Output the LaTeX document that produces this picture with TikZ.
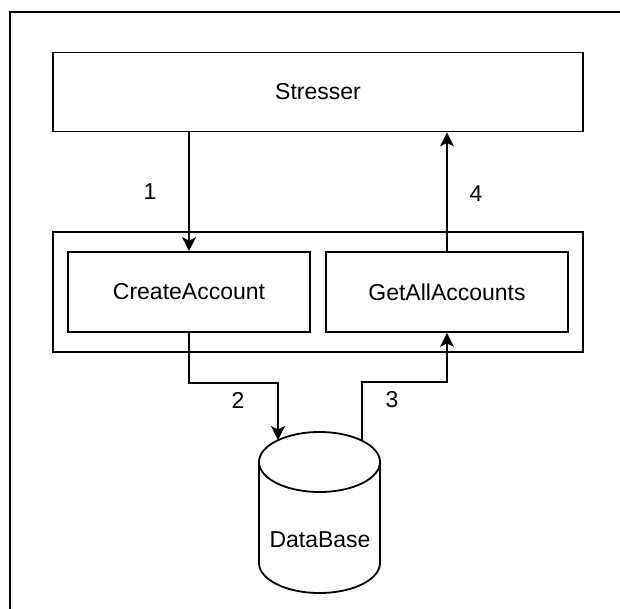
\documentclass[tikz,border=0pt]{standalone}
\usepackage{fontspec}
\setmainfont{Liberation Sans}
\usetikzlibrary{arrows.meta}

\tikzset{
  box/.style={draw, line width=1.8pt, inner sep=0pt, font=\fontsize{23}{27}\selectfont},
  lbl/.style={font=\fontsize{23}{27}\selectfont},
  flow/.style={line width=1.8pt, -{Stealth[length=14pt, width=14pt, inset=3.5pt]}}
}

\begin{document}
\begin{tikzpicture}[x=1pt, y=-1pt]
    \useasboundingbox (0,0) rectangle (620,608);
    % Frame around the whole drawing
    \draw[line width=1.8pt] (10,12) rectangle (630,620);

    % The stresser
    \node[box, minimum width=530pt, minimum height=79pt] (stresser) at (318,92) {Stresser};

    % Service with its two calls
    \node[box, minimum width=530pt, minimum height=120pt] (service) at (318,292) {};
    \node[box, minimum width=242pt, minimum height=80pt] (create) at (189,292) {CreateAccount};
    \node[box, minimum width=242pt, minimum height=80pt] (getall) at (447,292) {GetAllAccounts};

    % The database
    \draw[line width=1.8pt] (319.5,462) ellipse[x radius=60.5, y radius=30];
    \draw[line width=1.8pt] (259,462) -- (259,563) arc[start angle=180, end angle=0, x radius=60.5, y radius=30] -- (380,462);
    \node[lbl] (db) at (320,540) {DataBase};
    \coordinate (dbin) at (278,440);
    \coordinate (dbout) at (362,440);

    % Calls
    \draw[flow] (create.north |- stresser.south) -- (create.north);
    \draw[flow] (create.south) -- ++(0,50) -| (dbin);
    \draw[flow] (dbout) -- ++(0,-58) -| (getall.south);
    \draw[flow] (getall.north) -- (getall.north |- stresser.south);

    \node[lbl] (n1) at (150,192) {1};
    \node[lbl] (n2) at (238,400) {2};
    \node[lbl] (n3) at (392,400) {3};
    \node[lbl] (n4) at (476,194) {4};
\end{tikzpicture}
\end{document}
